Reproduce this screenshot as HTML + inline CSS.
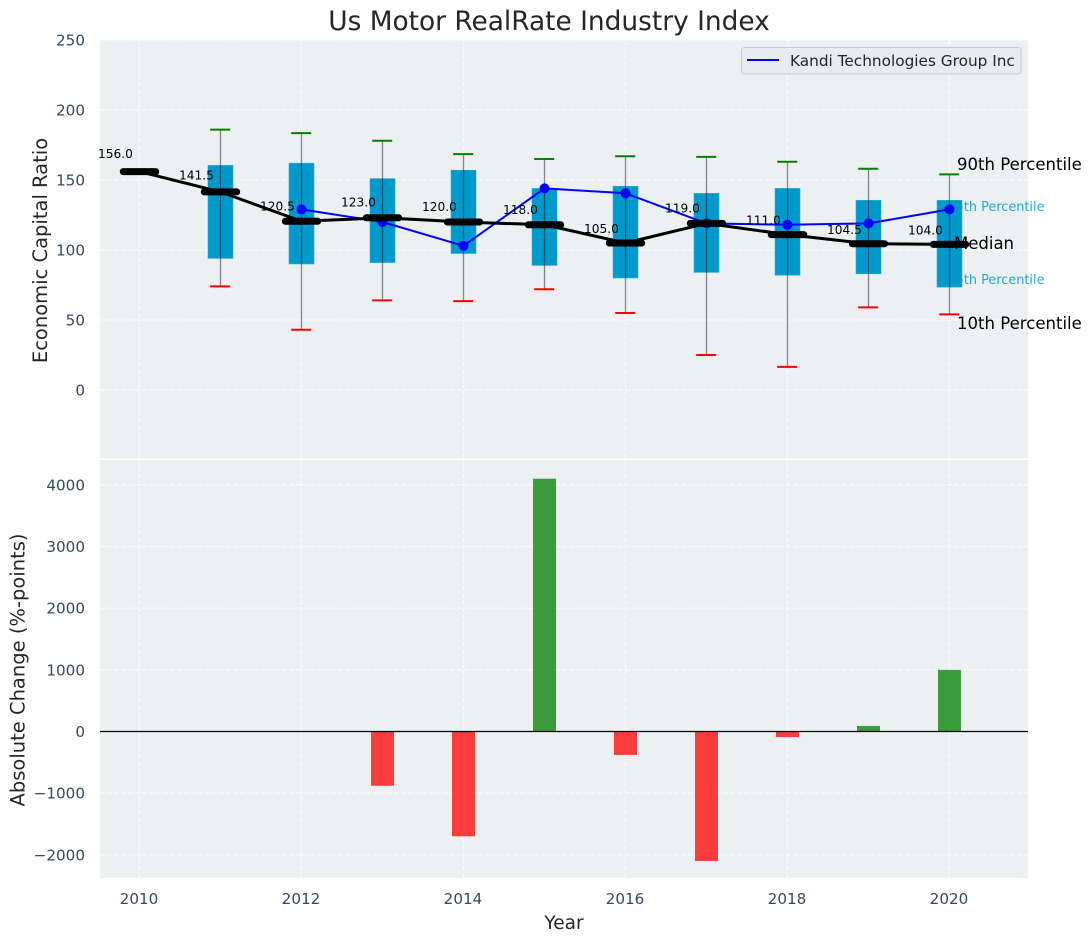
<!DOCTYPE html>
<html>
<head>
<meta charset="utf-8">
<title>Us Motor RealRate Industry Index</title>
<style>
html,body{margin:0;padding:0;background:#fff;}
svg{display:block;font-family:"DejaVu Sans","Liberation Sans",sans-serif;}
</style>
</head>
<body>
<svg id="chart" width="1092" height="942" viewBox="0 0 1092 942" xmlns="http://www.w3.org/2000/svg">
  <rect x="100" y="40" width="928" height="418.5" fill="#ecf0f1"/>
  <rect x="100" y="460" width="928" height="418" fill="#ecf0f1"/>
  <g id="grid"></g>
  <g id="pctLabelsBehind">
    <text x="947.5" y="211" font-size="12.85" fill="#0099cc" fill-opacity="0.85">75th Percentile</text>
    <text x="947.5" y="284" font-size="12.85" fill="#0099cc" fill-opacity="0.85">25th Percentile</text>
  </g>
  <g id="boxes"></g>
  <g id="whiskers"></g>
  <g id="company"></g>
  <g id="median"></g>
  <g id="bars"></g>
  <line x1="100" x2="1028" y1="731.5" y2="731.5" stroke="#000" stroke-width="1.2"/>
  <g id="ticks"></g>
  <text x="549" y="30" font-size="26.4" text-anchor="middle" fill="#262626">Us Motor RealRate Industry Index</text>
  <text transform="translate(47,250.5) rotate(-90)" font-size="19.5" text-anchor="middle" fill="#262626">Economic Capital Ratio</text>
  <text transform="translate(24.5,670) rotate(-90)" font-size="19.5" text-anchor="middle" fill="#262626">Absolute Change (%-points)</text>
  <text x="564" y="929" font-size="18.5" text-anchor="middle" fill="#262626">Year</text>
  <text x="957" y="170" font-size="16.55" fill="#000">90th Percentile</text>
  <text x="954" y="249" font-size="16.5" fill="#000">Median</text>
  <text x="957" y="329" font-size="16.55" fill="#000">10th Percentile</text>
  <g>
    <rect x="741.5" y="47.5" width="279.5" height="26.5" rx="3" fill="#eaeaf2" stroke="#cccccc"/>
    <line x1="747" x2="779" y1="60" y2="60" stroke="#0000ff" stroke-width="2"/>
    <text x="790" y="66" font-size="15.3" fill="#262626">Kandi Technologies Group Inc</text>
  </g>
</svg>
<script>
const years = [2010, 2011, 2012, 2013, 2014, 2015, 2016, 2017, 2018, 2019, 2020];
const medians = [156, 141.5, 120.5, 123, 120, 118, 105, 119, 111, 104.5, 104];
const medianLabels = ["156.0", "141.5", "120.5", "123.0", "120.0", "118.0", "105.0", "119.0", "111.0", "104.5", "104.0"];
const p90 = [null, 186, 183.5, 178, 168.5, 165, 167, 166.5, 163, 158, 154];
const p75 = [null, 160.5, 162, 151, 157, 144, 145.5, 140.5, 144, 135.5, 135.5];
const p25 = [null, 94, 90, 91, 97.5, 89, 80, 84, 82, 83, 73.5];
const p10 = [null, 74, 43, 64, 63.5, 72, 55, 25, 16.5, 59, 54];
const company = [null, null, 129, 120, 103, 144, 140.5, 119, 118, 119, 129];
const changes = [null, null, null, -880, -1700, 4100, -380, -2100, -90, 90, 1000];
const xTickYears = [2010, 2012, 2014, 2016, 2018, 2020];
const topTicks = [0, 50, 100, 150, 200, 250];
const bottomTicks = [-2000, -1000, 0, 1000, 2000, 3000, 4000];

const NS = "http://www.w3.org/2000/svg";
const xPos = function (yr) { return 139.5 + 81 * (yr - 2010); };
const yTop = function (v) { return 390 - 1.4 * v; };
const yBot = function (v) { return 731.5 - 0.06165 * v; };

function mk(parentId, tag, attrs, txt) {
  const el = document.createElementNS(NS, tag);
  for (const k in attrs) { el.setAttribute(k, attrs[k]); }
  if (txt !== undefined) { el.textContent = txt; }
  document.getElementById(parentId).appendChild(el);
  return el;
}
function fmt(v) { return v < 0 ? "\u2212" + Math.abs(v) : String(v); }

// gridlines
xTickYears.forEach(function (yr) {
  const a = mk("grid", "line", { x1: xPos(yr), x2: xPos(yr), y1: 40, y2: 458.5, stroke: "#fff", "stroke-width": 1.2, "stroke-dasharray": "5 2", "stroke-opacity": 0.75 });
  
  
  const b = mk("grid", "line", { x1: xPos(yr), x2: xPos(yr), y1: 460, y2: 878, stroke: "#fff", "stroke-width": 1.2, "stroke-dasharray": "5 2", "stroke-opacity": 0.75 });
  
  
  const t = mk("ticks", "text", { x: xPos(yr) - 0.5, y: 904, "font-size": 15.2, "text-anchor": "middle", fill: "#34495e" }, String(yr));
  
  
});
topTicks.forEach(function (v) {
  const a = mk("grid", "line", { x1: 100, x2: 1028, y1: yTop(v), y2: yTop(v), stroke: "#fff", "stroke-width": 1.2, "stroke-dasharray": "5 2", "stroke-opacity": 0.75 });
  
  
  const t = mk("ticks", "text", { x: 85, y: yTop(v) + 5.5, "font-size": 15.2, "text-anchor": "end", fill: "#34495e" }, fmt(v));
  
  
});
bottomTicks.forEach(function (v) {
  const a = mk("grid", "line", { x1: 100, x2: 1028, y1: yBot(v), y2: yBot(v), stroke: "#fff", "stroke-width": 1.2, "stroke-dasharray": "5 2", "stroke-opacity": 0.75 });
  
  
  const t = mk("ticks", "text", { x: 85, y: yBot(v) + 5.5, "font-size": 15.2, "text-anchor": "end", fill: "#34495e" }, fmt(v));
  
  
});

// boxes and whiskers
years.forEach(function (yr, i) {
  if (p75[i] === null) { return; }
  const x = xPos(yr);
  const box = mk("boxes", "rect", { x: x - 12.5, y: yTop(p75[i]), width: 25, height: yTop(p25[i]) - yTop(p75[i]), fill: "#0099cc", stroke: "#33add6", "stroke-width": 0.6 });
  
  
  const w = mk("whiskers", "line", { x1: x, x2: x, y1: yTop(p90[i]), y2: yTop(p10[i]), stroke: "#000", "stroke-opacity": 0.45, "stroke-width": 1.3 });
  
  
  const hi = mk("whiskers", "line", { x1: x - 10.3, x2: x + 9.7, y1: yTop(p90[i]), y2: yTop(p90[i]), stroke: "#008000", "stroke-width": 2 });
  
  
  const lo = mk("whiskers", "line", { x1: x - 10.3, x2: x + 9.7, y1: yTop(p10[i]), y2: yTop(p10[i]), stroke: "#ff0000", "stroke-width": 2 });
  
  
});

// company series
const companyPts = [];
years.forEach(function (yr, i) {
  if (company[i] !== null) { companyPts.push(xPos(yr) + "," + yTop(company[i])); }
});
const companyLine = mk("company", "polyline", { points: companyPts.join(" "), fill: "none", stroke: "#0000ff", "stroke-width": 2 });


years.forEach(function (yr, i) {
  if (company[i] === null) { return; }
  const c = mk("company", "circle", { cx: xPos(yr), cy: yTop(company[i]), r: 5, fill: "#0000ff" });
  
  
});

// median series
const medianPts = years.map(function (yr, i) { return xPos(yr) + "," + yTop(medians[i]); });
const medianLine = mk("median", "polyline", { points: medianPts.join(" "), fill: "none", stroke: "#000", "stroke-width": 3 });


years.forEach(function (yr, i) {
  const x = xPos(yr);
  const y = yTop(medians[i]);
  const m = mk("median", "line", { x1: x - 16.2, x2: x + 16.2, y1: y, y2: y, stroke: "#000", "stroke-width": 7, "stroke-linecap": "round" });
  
  
  const t = mk("median", "text", { x: x - 24, y: yTop(medians[i] * 1.05) - 2.5, "font-size": 12.2, "text-anchor": "middle", fill: "#000" }, medianLabels[i]);
  
  
});

// change bars
years.forEach(function (yr, i) {
  if (changes[i] === null) { return; }
  const y0 = yBot(0);
  const y1 = yBot(changes[i]);
  const bar = mk("bars", "rect", { x: xPos(yr) - 11.5, y: Math.min(y0, y1), width: 23, height: Math.abs(y1 - y0), fill: changes[i] < 0 ? "#ff0000" : "#008000", "fill-opacity": 0.75 });
  
  
});
</script>
</body>
</html>
